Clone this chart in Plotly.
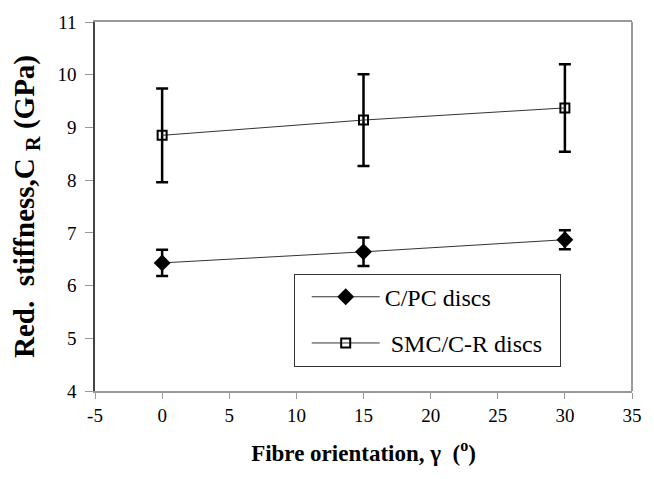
import plotly.graph_objects as go

orientation = [0, 15, 30]
cpc_mean = [6.43, 6.64, 6.87]
cpc_err = [0.25, 0.27, 0.18]
smc_mean = [8.85, 9.14, 9.37]
smc_err = [0.89, 0.87, 0.83]

x_ticks = [-5, 0, 5, 10, 15, 20, 25, 30, 35]
y_ticks = [4, 5, 6, 7, 8, 9, 10, 11]

FONT = "Liberation Serif"

fig = go.Figure()
fig.add_trace(go.Scatter(
    x=orientation, y=cpc_mean, name="C/PC discs", legendgroup="a",
    mode="lines+markers",
    line=dict(color="#333333", width=1),
    marker=dict(symbol="diamond", size=13, color="black"),
    error_y=dict(type="data", array=cpc_err, color="black", thickness=2.5, width=6),
))
fig.add_trace(go.Scatter(
    x=orientation, y=smc_mean, name=" SMC/C-R discs\u00a0\u00a0", legendgroup="b",
    mode="lines+markers",
    line=dict(color="#333333", width=1),
    marker=dict(symbol="square-open", size=9, color="black", line=dict(width=2)),
    error_y=dict(type="data", array=smc_err, color="black", thickness=2.5, width=6),
))

fig.update_layout(
    width=654, height=479,
    margin=dict(l=95, r=15, t=15, b=88),
    paper_bgcolor="white", plot_bgcolor="white",
    font=dict(family=FONT, color="black", size=18),
    showlegend=True,
    legend=dict(
        x=0.370, y=0.318, xanchor="left", yanchor="top",
        bordercolor="#333333", borderwidth=1, bgcolor="white",
        font=dict(family=FONT, size=24, color="black"),
        itemwidth=68, indentation=12, tracegroupgap=12, traceorder="grouped",
    ),
    xaxis=dict(
        range=[-5, 35], tickvals=x_ticks, ticktext=[str(v) for v in x_ticks],
        showline=True, linecolor="#999999", linewidth=2, mirror=True,
        ticks="outside", ticklen=6, tickcolor="#999999",
        showgrid=False, zeroline=False,
        tickfont=dict(family=FONT, size=19, color="black"),
        title=dict(text="<b>Fibre orientation, γ  (<sup>o</sup>)</b>",
                   font=dict(family=FONT, size=23, color="black"), standoff=20),
    ),
    yaxis=dict(
        range=[4, 11], tickvals=y_ticks, ticktext=[str(v) for v in y_ticks],
        showline=True, linecolor="#444444", linewidth=1.5,
        ticks="outside", ticklen=8, tickcolor="#999999",
        ticklabelstandoff=5,
        showgrid=False, zeroline=False,
        tickfont=dict(family=FONT, size=19, color="black"),
        title=dict(text="<b>Red.  stiffness,C <sub>R</sub> (GPa)</b>",
                   font=dict(family=FONT, size=29, color="black"), standoff=14),
    ),
    shapes=[dict(type="line", xref="paper", yref="paper", x0=1, x1=1, y0=0, y1=1,
                 line=dict(color="#999999", width=2))],
)

fig.write_html("out.html", config={"displayModeBar": False},
               post_script="document.body.style.margin='0';document.body.style.padding='0';")
